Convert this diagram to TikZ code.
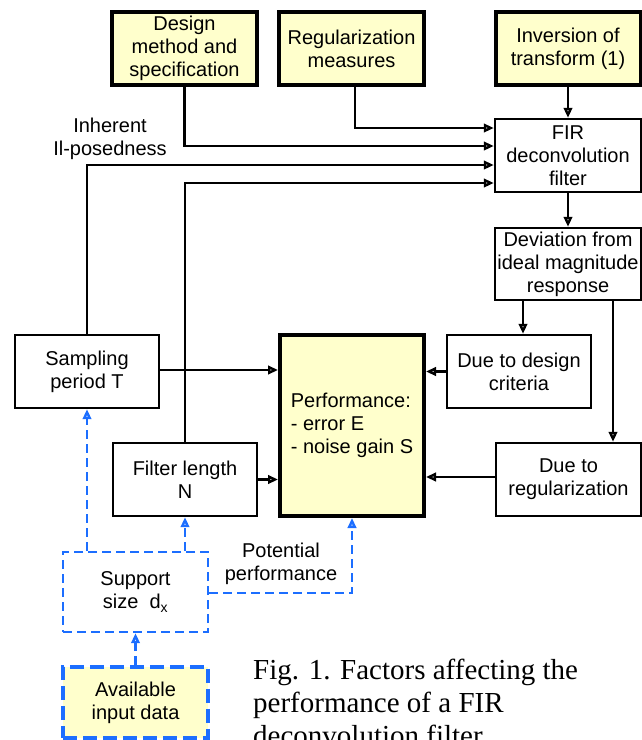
\documentclass[tikz,border=0pt]{standalone}
\usepackage{fontspec}
\setmainfont{Liberation Sans}
\newfontfamily\capfont{Liberation Serif}
\usetikzlibrary{arrows.meta}
\definecolor{boxyellow}{RGB}{255,255,204}
\definecolor{dashblue}{RGB}{28,110,255}
\begin{document}
\begin{tikzpicture}[x=1pt,y=-1pt,
  every node/.style={font=\fontsize{20}{23}\selectfont, align=center, inner sep=1pt},
  box/.style={draw, line width=2.4pt, minimum width=145pt, minimum height=73pt, fill=white},
  keybox/.style={box, line width=4pt, fill=boxyellow},
  conn/.style={line width=2.4pt, -{Triangle[open,length=10pt,width=8.5pt]}},
  bconn/.style={conn, draw=dashblue, dash pattern=on 9pt off 5pt},
  dbox/.style={box, draw=dashblue, dash pattern=on 9pt off 5pt},
  dkeybox/.style={box, draw=dashblue, line width=4pt, fill=boxyellow, dash pattern=on 14pt off 6pt},
  lbl/.style={fill=none}
]
\useasboundingbox (0,0) rectangle (642,740);

% top row
\node[keybox] (design) at (184.5,48.5) {Design\\method and\\specification};
\node[keybox] (regmeas) at (351.5,48.5) {Regularization\\measures};
\node[keybox] (inversion) at (568,48.5) {Inversion of\\transform (1)};

% right column
\node[box, minimum width=146pt] (fir) at (568,155.5) {FIR\\deconvolution\\filter};
\node[box, minimum width=146pt, minimum height=72pt] (deviation) at (568,264) {Deviation from\\ideal magnitude\\response};

% middle row
\node[box, minimum width=144pt] (sampling) at (87,371.5) {Sampling\\period T};
\node[keybox, minimum width=144pt, minimum height=181pt, align=left] (perf) at (352,425.5) {Performance:\\- error E\\- noise gain S};
\node[box, minimum width=144pt] (duedesign) at (519,371.5) {Due to design\\criteria};
\node[box, minimum width=144pt] (filterlen) at (185,479.5) {Filter length\\N};
\node[box, minimum width=145pt] (duereg) at (568.5,479.5) {Due to\\regularization};

% bottom left
\node[dbox, minimum height=80pt] (support) at (135.5,592) {Support\\size\ \ d\textsubscript{x}};
\node[dkeybox, minimum height=71pt] (available) at (135.5,702.5) {Available\\input data};

% labels
\node[lbl] (inherent) at (110,139) {Inherent\\Il-posedness};
\node[lbl] (potential) at (281,564) {Potential\\performance};

% caption
\node[lbl, anchor=north west, align=left, font=\capfont\fontsize{29}{33}\selectfont] (caption) at (252,658)
  {Fig. 1. Factors affecting the\\performance of a FIR\\deconvolution filter};

% connectors into FIR filter
\draw[conn] (inversion.south) -- (fir.north);
\draw[conn] ([xshift=3.5pt]regmeas.south) |- ([yshift=27.5pt]fir.west);
\draw[conn] (design.south) |- ([yshift=9.5pt]fir.west);
\draw[conn] (sampling.north) |- ([yshift=-9.5pt]fir.west);
\draw[conn] (filterlen.north) |- ([yshift=-27.5pt]fir.west);
\draw[conn] (fir.south) -- (deviation.north);

% deviation to its two effects
\path ([xshift=4pt]duedesign.north) coordinate (ddtop);
\path ([xshift=44.5pt]duereg.north) coordinate (drtop);
\draw[conn] (ddtop |- deviation.south) -- (ddtop);
\draw[conn] (drtop |- deviation.south) -- (drtop);

% into performance
\draw[conn] ([yshift=1.5pt]sampling.east) -- ([yshift=1.5pt]sampling.east -| perf.west);
\draw[conn] (duedesign.west) -- (duedesign.west -| perf.east);
\draw[conn] (filterlen.east) -- (filterlen.east -| perf.west);
\draw[conn] ([yshift=2.5pt]duereg.west) -- ([yshift=2.5pt]duereg.west -| perf.east);

% blue dashed
\draw[bconn] (sampling.south |- support.north) -- (sampling.south);
\draw[bconn] (filterlen.south |- support.north) -- (filterlen.south);
\draw[bconn] ([yshift=-1pt]support.east) -| (perf.south);
\draw[bconn] (available.north) -- (support.south);
\end{tikzpicture}
\end{document}
